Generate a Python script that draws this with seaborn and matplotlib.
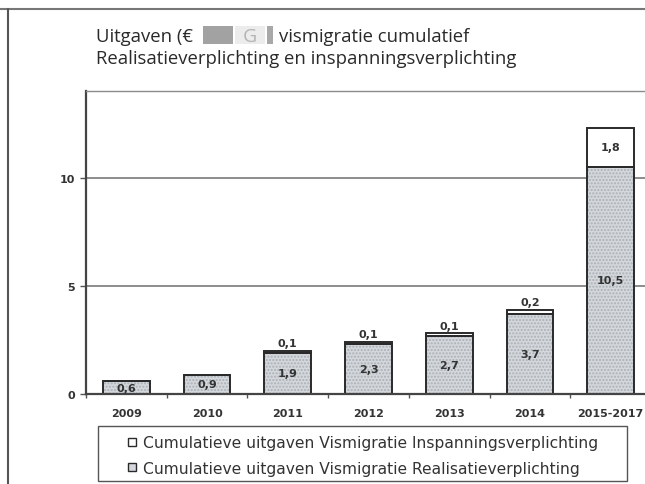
import numpy as np
import pandas as pd
import matplotlib.pyplot as plt
import seaborn as sns
from matplotlib.patches import Rectangle
from matplotlib.lines import Line2D

# data (miljoen euro, cumulatief)
periods = ['2009', '2010', '2011', '2012', '2013', '2014', '2015-2017']
realisatie = [0.6, 0.9, 1.9, 2.3, 2.7, 3.7, 10.5]
inspanning = [0.0, 0.0, 0.1, 0.1, 0.1, 0.2, 1.8]
y_ticks = [0, 5, 10]

df = pd.DataFrame({'periode': periods, 'realisatie': realisatie, 'inspanning': inspanning})
df['totaal'] = df['realisatie'] + df['inspanning']

sns.set_style('white')
plt.rcParams['font.family'] = ['DejaVu Sans']

W, H = 645, 485
fig = plt.figure(figsize=(W / 100, H / 100), dpi=100)


def fx(px):
    return px / W


def fy(py):
    return 1 - py / H


# plot area (right side runs off the page, like the scan)
ax = fig.add_axes([fx(86), fy(395), fx(565), (395 - 92) / H])

grey = '#d4d8dc'
edge = '#2a2a2a'
bw = 0.58

# bottom segment: dotted grey
sns.barplot(data=df, x='periode', y='realisatie', color=grey, width=bw,
            saturation=1, ax=ax, hatch='.....', edgecolor='#aab0b6', linewidth=0)
# top segment: white
sns.barplot(data=df, x='periode', y='inspanning', bottom=df['realisatie'], color='white',
            width=bw, saturation=1, ax=ax, edgecolor=edge, linewidth=1.4)
# outline of bottom segment
sns.barplot(data=df, x='periode', y='realisatie', fill=False, width=bw,
            ax=ax, edgecolor=edge, linewidth=1.4)

lab_kw = dict(ha='center', fontsize=8, fontweight='bold', color='#333333')
for i, row in df.iterrows():
    ax.text(i, row['realisatie'] / 2, f"{row['realisatie']:.1f}".replace('.', ','),
            va='center', **lab_kw)
    v = row['inspanning']
    if v <= 0:
        continue
    txt = f"{v:.1f}".replace('.', ',')
    if v > 1:
        ax.text(i, row['realisatie'] + v / 2, txt, va='center', **lab_kw)
    else:
        ax.annotate(txt, (i, row['totaal']), xytext=(0, 2), textcoords='offset points',
                    va='bottom', **lab_kw)

ax.set_xlim(-0.5, 6.5)
ax.set_ylim(0, 14)
ax.set_yticks(y_ticks)
ax.yaxis.grid(True, color='#6e6e6e', linewidth=1.1)
ax.set_axisbelow(True)
ax.set_xlabel('')
ax.set_ylabel('')

ax.set_xticks(range(len(periods)))
ax.set_xticklabels(periods)
ax.set_xticks(np.arange(-0.5, 7, 1), minor=True)
ax.tick_params(axis='x', which='major', length=0, pad=10, labelsize=8, labelcolor='#333333')
ax.tick_params(axis='x', which='minor', direction='out', length=3, width=1, color='#555555', bottom=True)
ax.tick_params(axis='y', direction='out', length=4, width=1, color='#555555', left=True,
               labelsize=8, labelcolor='#333333', pad=4)
for lbl in ax.get_xticklabels() + ax.get_yticklabels():
    lbl.set_fontweight('bold')

for side in ['left', 'bottom']:
    ax.spines[side].set_color('#444444')
    ax.spines[side].set_linewidth(1.6)
ax.spines['top'].set_color('#8a8a8a')
ax.spines['top'].set_linewidth(1.0)
ax.spines['top'].set_linestyle((0, (3, 1)))
ax.spines['right'].set_visible(False)

# title
fam = ['Open Sans', 'DejaVu Sans']
title_kw = dict(fontsize=13.3, color='#2a2a2a', family=fam)
fig.text(fx(96), fy(42), 'Uitgaven (€', va='baseline', **title_kw)
fig.text(fx(279), fy(42), 'vismigratie cumulatief', va='baseline', **title_kw)
fig.text(fx(96), fy(64), 'Realisatieverplichting en inspanningsverplichting',
         va='baseline', **title_kw)
# redaction blocks
for x0, w, c in [(203, 30, '#a2a2a2'), (235, 30, '#ececec'), (267, 6, '#a8a8a8')]:
    fig.patches.append(Rectangle((fx(x0), fy(45)), fx(w), 18 / H, transform=fig.transFigure,
                                 facecolor=c, edgecolor='none'))
fig.text(fx(250), fy(42), 'G', va='baseline', ha='center', fontsize=14, color='#b4b4b4',
         family=fam)

# scan border lines
fig.add_artist(Line2D([0, 1], [fy(10), fy(10)], transform=fig.transFigure,
                      color='#777777', linewidth=1.5))
fig.add_artist(Line2D([fx(8), fx(8)], [0, fy(10)], transform=fig.transFigure,
                      color='#555555', linewidth=1.5))

# legend with small square markers, indented like the original
handles = [Line2D([], [], linestyle='none', marker='s', markersize=6,
                  markerfacecolor='white', markeredgecolor=edge, markeredgewidth=1),
           Line2D([], [], linestyle='none', marker='s', markersize=6,
                  markerfacecolor=grey, markeredgecolor=edge, markeredgewidth=1)]
labels = ['Cumulatieve uitgaven Vismigratie Inspanningsverplichting',
          'Cumulatieve uitgaven Vismigratie Realisatieverplichting']
leg = fig.legend(handles, labels, loc='upper left',
                 bbox_to_anchor=(fx(98), fy(482), fx(529), 55 / H), mode='expand',
                 frameon=False, fontsize=11.2, handlelength=3.15,
                 handletextpad=-0.85, borderpad=0.6, labelspacing=0.68,
                 borderaxespad=0)
for t in leg.get_texts():
    t.set_color('#333333')
# legend frame
fig.patches.append(Rectangle((fx(98), fy(482)), fx(529), 55 / H, transform=fig.transFigure,
                             facecolor='none', edgecolor='#555555', linewidth=1.0))

fig.savefig('out.png', dpi=100)
